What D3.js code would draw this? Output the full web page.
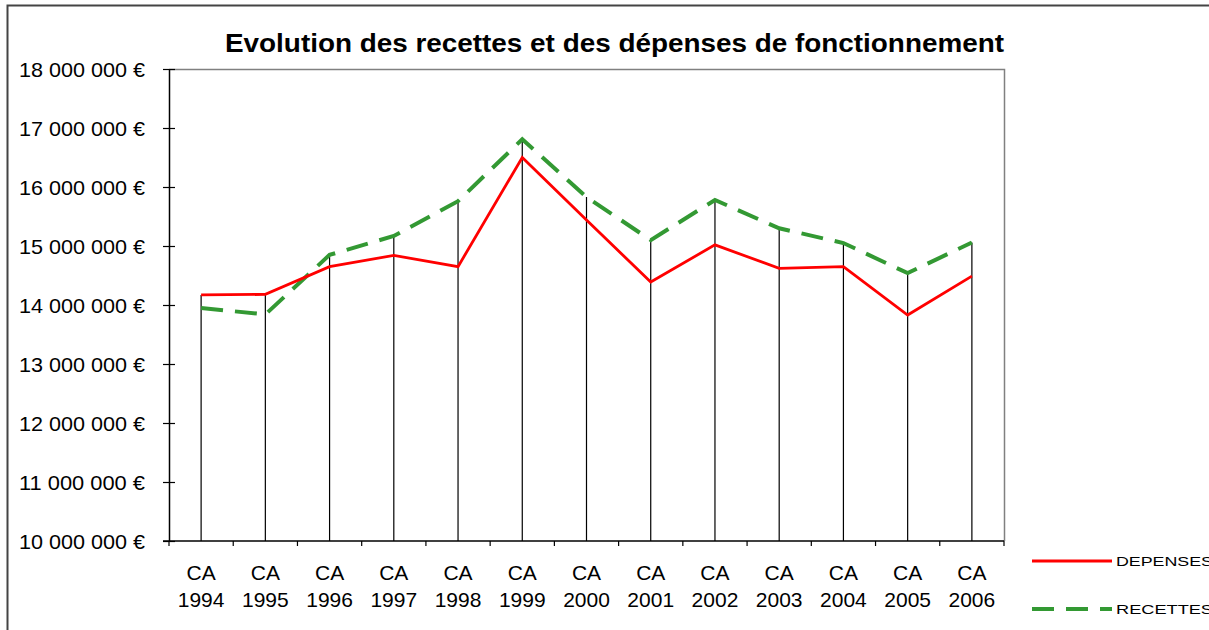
<!DOCTYPE html>
<html>
<head>
<meta charset="utf-8">
<script src="https://cdn.jsdelivr.net/npm/d3@7"></script>
<style>
  body { margin: 0; background: #fff; }
  svg { display: block; font-family: "Liberation Sans", Arial, sans-serif; }
</style>
</head>
<body>
<div id="chart"></div>
<script>
const years = ["1994", "1995", "1996", "1997", "1998", "1999", "2000",
               "2001", "2002", "2003", "2004", "2005", "2006"];
const depenses = [14170000, 14180000, 14650000, 14840000, 14650000, 16500000, 15440000,
                  14390000, 15020000, 14620000, 14650000, 13830000, 14490000];
const recettes = [13950000, 13840000, 14850000, 15170000, 15760000, 16810000, 15830000,
                  15100000, 15780000, 15300000, 15050000, 14540000, 15060000];
const yTicks = [10000000, 11000000, 12000000, 13000000, 14000000, 15000000, 16000000, 17000000, 18000000];

const W = 1209, H = 630;
const plot = { left: 169, right: 1004, top: 69, bottom: 541 };

const svg = d3.select("#chart")
    .append("svg")
    .attr("width", W)
    .attr("height", H);

// outer chart frame (only top and left visible)
svg.append("path")
    .attr("d", `M7.5,${H} V5.5 H${W}`)
    .attr("fill", "none")
    .attr("stroke", "#444")
    .attr("stroke-width", 2);

const x = d3.scaleBand()
    .domain(years)
    .range([plot.left, plot.right]);

const y = d3.scaleLinear()
    .domain([10000000, 18000000])
    .range([plot.bottom, plot.top]);

const fr = d3.formatLocale({ decimal: ",", thousands: " ", grouping: [3], currency: ["", " €"] });
const fmt = fr.format("$,.0f");

// plot area border: gray top and right
svg.append("path")
    .attr("d", `M${plot.left},${plot.top + 0.5} H${plot.right + 0.5} V${plot.bottom}`)
    .attr("fill", "none")
    .attr("stroke", "#808080")
    .attr("stroke-width", 1.5);

// drop lines
svg.append("g")
    .selectAll("line")
    .data(years)
    .join("line")
    .attr("x1", d => x(d) + x.bandwidth() / 2)
    .attr("x2", d => x(d) + x.bandwidth() / 2)
    .attr("y1", y(10000000))
    .attr("y2", (d, i) => y(Math.max(depenses[i], recettes[i])))
    .attr("stroke", "#000")
    .attr("stroke-width", 1.2);

// y axis
const yAxis = svg.append("g")
    .attr("transform", `translate(${plot.left},0)`)
    .call(d3.axisLeft(y).tickValues(yTicks).tickFormat(fmt).tickSizeInner(6).tickSizeOuter(0).tickPadding(18));
yAxis.select(".domain").attr("stroke", "#000").attr("stroke-width", 1.5);
yAxis.selectAll(".tick line").attr("x2", 6).attr("x1", -6).attr("stroke", "#000").attr("stroke-width", 1.2);
yAxis.selectAll(".tick text")
    .attr("x", -24)
    .attr("dy", "0.36em")
    .style("font-size", "21px")
    .attr("textLength", 126)
    .attr("lengthAdjust", "spacingAndGlyphs")
    .attr("fill", "#000");

// x axis with ticks at category boundaries
const xAxis = svg.append("g")
    .attr("transform", `translate(0,${plot.bottom})`);
xAxis.append("line")
    .attr("x1", plot.left - 6)
    .attr("x2", plot.right)
    .attr("stroke", "#000")
    .attr("stroke-width", 1.5);
xAxis.selectAll(".xtick")
    .data(years.concat(["end"]))
    .join("line")
    .attr("class", "xtick")
    .attr("x1", (d, i) => plot.left + i * x.bandwidth())
    .attr("x2", (d, i) => plot.left + i * x.bandwidth())
    .attr("y1", 0)
    .attr("y2", 5)
    .attr("stroke", "#000")
    .attr("stroke-width", 1.2);

const xLab = xAxis.selectAll(".xlab")
    .data(years)
    .join("text")
    .attr("class", "xlab")
    .attr("text-anchor", "middle")
    .attr("x", d => x(d) + x.bandwidth() / 2)
    .style("font-size", "21px")
    .attr("fill", "#000");
xLab.append("tspan").attr("x", d => x(d) + x.bandwidth() / 2).attr("y", 39).text("CA");
xLab.append("tspan").attr("x", d => x(d) + x.bandwidth() / 2).attr("y", 66).text(d => d);

// series
const line = d3.line()
    .x((d, i) => x(years[i]) + x.bandwidth() / 2)
    .y(d => y(d));

svg.append("path")
    .attr("d", line(recettes))
    .attr("fill", "none")
    .attr("stroke", "#339933")
    .attr("stroke-width", 4)
    .attr("stroke-dasharray", "22,12");

svg.append("path")
    .attr("d", line(depenses))
    .attr("fill", "none")
    .attr("stroke", "#ff0000")
    .attr("stroke-width", 2.8);

// title
svg.append("text")
    .attr("x", 225)
    .attr("y", 52)
    .style("font-size", "25px")
    .style("font-weight", "bold")
    .attr("textLength", 779)
    .attr("lengthAdjust", "spacingAndGlyphs")
    .text("Evolution des recettes et des dépenses de fonctionnement");

// legend
const legend = [
    { name: "DEPENSES", color: "#ff0000", width: 3, dash: null, y: 561 },
    { name: "RECETTES", color: "#339933", width: 4, dash: "22,12", y: 609 }
];
const lg = svg.append("g").selectAll("g").data(legend).join("g");
lg.append("line")
    .attr("x1", 1032)
    .attr("x2", 1112)
    .attr("y1", d => d.y)
    .attr("y2", d => d.y)
    .attr("stroke", d => d.color)
    .attr("stroke-width", d => d.width)
    .attr("stroke-dasharray", d => d.dash);
lg.append("text")
    .attr("x", 1116)
    .attr("y", d => d.y + 5)
    .style("font-size", "13.5px")
    .attr("textLength", 97)
    .attr("lengthAdjust", "spacingAndGlyphs")
    .text(d => d.name);
</script>
</body>
</html>
